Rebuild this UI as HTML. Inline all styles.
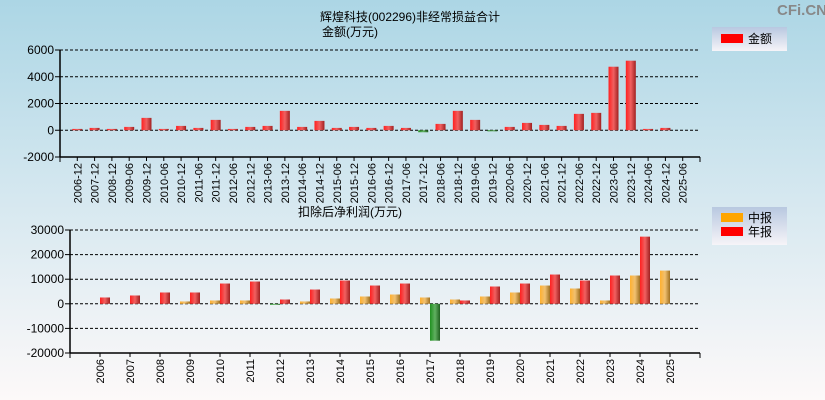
<!DOCTYPE html>
<html><head><meta charset="utf-8"><style>
body{margin:0;width:825px;height:400px;overflow:hidden;}
svg{display:block;font-family:"Liberation Sans","Noto Sans CJK SC",sans-serif;}
</style></head><body>
<svg id="c" width="825" height="400">
<defs>
<linearGradient id="bg" x1="0" y1="0" x2="0" y2="1"><stop offset="0" stop-color="#acd6e5"/><stop offset="0.5" stop-color="#d6e8f0"/><stop offset="1" stop-color="#fdf9f9"/></linearGradient>
<linearGradient id="gr" x1="0" x2="1"><stop offset="0" stop-color="#ff2020"/><stop offset="0.5" stop-color="#f06060"/><stop offset="1" stop-color="#a02020"/></linearGradient>
<linearGradient id="go" x1="0" x2="1"><stop offset="0" stop-color="#ffb030"/><stop offset="0.5" stop-color="#f0c070"/><stop offset="1" stop-color="#a07020"/></linearGradient>
<linearGradient id="gg" x1="0" x2="1"><stop offset="0" stop-color="#209020"/><stop offset="0.5" stop-color="#60b060"/><stop offset="1" stop-color="#206020"/></linearGradient>
<linearGradient id="lg" x1="0" y1="0" x2="0" y2="1"><stop offset="0" stop-color="#b8c8e0"/><stop offset="1" stop-color="#f6f4f8"/></linearGradient>
</defs>
<rect width="825" height="400" fill="url(#bg)"/>
<text x="777" y="15" font-size="15" font-weight="bold" fill="#888">CFi.CN</text>
<text x="410" y="21" font-size="12" text-anchor="middle">辉煌科技(002296)非经常损益合计</text>
<text x="350" y="36" font-size="12" text-anchor="middle">金额(万元)</text>
<text x="350" y="216" font-size="12" text-anchor="middle">扣除后净利润(万元)</text>
<g><rect x="712" y="27" width="75" height="24" fill="url(#lg)"/><rect x="721" y="34" width="22" height="9" fill="#f00"/><text x="748" y="43" font-size="12">金额</text></g>
<g><rect x="712" y="207" width="75" height="38" fill="url(#lg)"/><rect x="721" y="213" width="22" height="9" fill="#ffa500"/><text x="748" y="222" font-size="12">中报</text><rect x="721" y="227" width="22" height="9" fill="#f00"/><text x="748" y="236" font-size="12">年报</text></g>
<g id="top"></g><g id="bot"></g>
</svg>
<script>
const topCats=["2006-12","2007-12","2008-12","2009-06","2009-12","2010-06","2010-12","2011-06","2011-12","2012-06","2012-12","2013-06","2013-12","2014-06","2014-12","2015-06","2015-12","2016-06","2016-12","2017-06","2017-12","2018-06","2018-12","2019-06","2019-12","2020-06","2020-12","2021-06","2021-12","2022-06","2022-12","2023-06","2023-12","2024-06","2024-12","2025-06"];
const topVals=[100,175,100,250,925,100,325,175,775,100,250,325,1450,250,700,175,250,175,325,175,-150,475,1450,775,-80,250,550,400,325,1225,1300,4750,5200,100,175,0];
const topTicks=[6000,4000,2000,0,-2000];
const botCats=["2006","2007","2008","2009","2010","2011","2012","2013","2014","2015","2016","2017","2018","2019","2020","2021","2022","2023","2024","2025"];
const botInterim=[null,null,null,950,1350,1350,-400,950,2160,2970,3780,2570,1750,2970,4600,7430,6220,1350,11500,13500];
const botAnnual=[2570,3380,4600,4600,8240,9050,1750,5800,9460,7430,8240,-15000,1350,7030,8240,11900,9460,11500,27300,null];
const botTicks=[30000,20000,10000,0,-10000,-20000];
const NS="http://www.w3.org/2000/svg";
function mk(p,t,a){const e=document.createElementNS(NS,t);for(const k in a)e.setAttribute(k,a[k]);p.appendChild(e);return e;}
function axes(g,x0,x1,yTop,yBot,vmax,vmin,ticks,cats,slot,name){
  const y=v=>yTop+(vmax-v)/(vmax-vmin)*(yBot-yTop);
  ticks.forEach(t=>{
    if(t!==vmin){const l=mk(g,'line',{x1:x0,x2:x1,y1:y(t),y2:y(t),stroke:'#000','stroke-dasharray':'3,2'});
    
    }
    mk(g,'line',{x1:x0-5,x2:x0,y1:y(t),y2:y(t),stroke:'#000'});
    const tx=mk(g,'text',{x:x0-6,y:y(t)+4,'font-size':12,'text-anchor':'end'});tx.textContent=t;
    
    
  });
  mk(g,'line',{x1:x0,x2:x0,y1:yTop,y2:yBot,stroke:'#000','stroke-width':1.5});
  mk(g,'line',{x1:x0,x2:x1,y1:yBot,y2:yBot,stroke:'#000','stroke-width':1.5});
  mk(g,'line',{x1:x1,x2:x1,y1:yBot,y2:yBot+5,stroke:'#000'});
  mk(g,'line',{x1:x0,x2:x0,y1:yBot,y2:yBot+5,stroke:'#000'});
  cats.forEach((c,i)=>{const cx=x0+slot*(i+1);
    mk(g,'line',{x1:cx,x2:cx,y1:yBot,y2:yBot+4,stroke:'#000'});
    const tx=mk(g,'text',{x:0,y:0,'font-size':11,'text-anchor':'end',transform:`translate(${cx+4},${yBot+6}) rotate(-90)`});tx.textContent=c;
    
    
  });
  return y;
}
function bar(g,x,w,y,v,fill,name){if(v===null||v===undefined||v===0)return;const y0=y(0),yv=y(v);
  const r=mk(g,'rect',{x:x,y:Math.min(y0,yv),width:w,height:Math.max(Math.abs(y0-yv),1),fill:v<0?'url(#gg)':fill});
  
  }
const gt=document.getElementById('top');
const ts=(700-60)/37;
const yt=axes(gt,60,700,50,157,6000,-2000,topTicks,topCats,ts,'top');
topVals.forEach((v,i)=>bar(gt,60+ts*(i+1)-5,10,yt,v,'url(#gr)','bar-'+topCats[i]));
const gb=document.getElementById('bot');
const bs=(700-70)/21;
const yb=axes(gb,70,700,230,353,30000,-20000,botTicks,botCats,bs,'bottom');
botCats.forEach((c,i)=>{const cx=70+bs*(i+1);
  bar(gb,cx-10,10,yb,botInterim[i],'url(#go)','bar-interim-'+c);
  bar(gb,cx,10,yb,botAnnual[i],'url(#gr)','bar-annual-'+c);});
</script>
</body></html>
